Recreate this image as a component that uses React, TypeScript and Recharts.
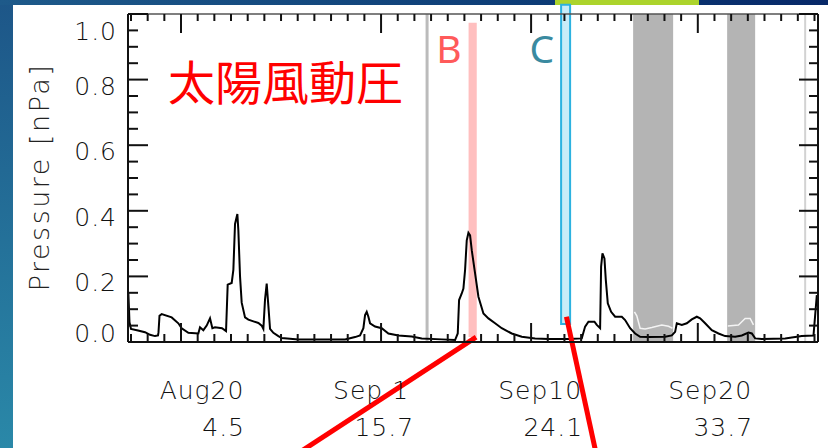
import React from 'react';
import { ComposedChart, Line, XAxis, YAxis, ReferenceArea, ReferenceLine, Label } from 'recharts';

// time axis: day of month counted from Aug 0 (Sep 1 = day 32)
const pressureDays = [
  16.84, 16.91, 17.0, 17.42, 17.84, 18.14, 18.44, 18.62, 18.65, 18.71, 18.84, 19.44, 19.84, 20.04,
  20.44, 21.04, 21.14, 21.34, 21.54, 21.74, 21.88, 22.04, 22.46, 22.7, 22.8, 23.04, 23.14, 23.24,
  23.38, 23.44, 23.54, 23.64, 23.84, 24.04, 24.64, 24.84, 24.94, 25.04, 25.14, 25.24, 25.34, 25.54,
  25.84, 26.04, 27.04, 29.84, 30.44, 30.74, 30.94, 31.04, 31.14, 31.24, 31.34, 31.64, 32.04, 32.44,
  33.04, 33.84, 34.44, 35.64, 36.44, 36.6, 36.68, 36.84, 36.94, 37.04, 37.14, 37.24, 37.34, 37.44,
  37.64, 37.84, 38.14, 38.44, 38.84, 39.24, 39.84, 40.44, 41.24, 42.04, 43.24, 44.04, 44.24, 44.44,
  44.8, 44.94, 45.14, 45.2, 45.28, 45.4, 45.48, 45.6, 45.8, 46.04, 46.44, 46.64, 46.94, 47.24,
  47.54, 48.04, 49.04, 49.44, 49.64, 49.74, 50.04, 50.34, 50.64, 50.94, 51.14, 51.44, 51.84, 52.24,
  52.64, 53.24, 53.64, 54.04, 54.24, 54.44, 54.84, 56.24, 57.24, 57.94, 58.04, 58.14,
];
const pressureValues = [
  0.15, 0.06, 0.04, 0.035, 0.03, 0.022, 0.018, 0.02, 0.03, 0.08, 0.085, 0.075, 0.057, 0.042,
  0.028, 0.026, 0.045, 0.036, 0.05, 0.072, 0.042, 0.045, 0.042, 0.033, 0.175, 0.18, 0.22, 0.36,
  0.39, 0.34, 0.2, 0.12, 0.075, 0.068, 0.058, 0.05, 0.04, 0.13, 0.178, 0.11, 0.04, 0.028,
  0.018, 0.012, 0.008, 0.008, 0.015, 0.02, 0.042, 0.082, 0.092, 0.077, 0.057, 0.047, 0.042, 0.026,
  0.02, 0.017, 0.011, 0.008, 0.006, 0.026, 0.128, 0.148, 0.163, 0.22, 0.31, 0.333, 0.325, 0.28,
  0.209, 0.138, 0.087, 0.072, 0.057, 0.042, 0.026, 0.016, 0.011, 0.009, 0.009, 0.011, 0.047, 0.062,
  0.062, 0.052, 0.042, 0.23, 0.27, 0.255, 0.19, 0.118, 0.092, 0.077, 0.077, 0.067, 0.042, 0.026,
  0.016, 0.015, 0.016, 0.02, 0.031, 0.057, 0.052, 0.057, 0.069, 0.077, 0.072, 0.057, 0.036, 0.026,
  0.018, 0.016, 0.02, 0.029, 0.026, 0.011, 0.009, 0.011, 0.018, 0.02, 0.082, 0.143,
];

// second trace, only visible over the grey intervals (null = gap)
const secondDays = [47.2, 47.34, 47.54, 47.84, 48.24, 48.84, 49.24, 49.48, 51.0, 52.8, 53.44, 53.84, 54.14, 54.34];
const secondValues = [0.092, 0.08, 0.042, 0.04, 0.044, 0.052, 0.048, 0.042, null, 0.049, 0.052, 0.072, 0.072, 0.052];

const majorDays = [20, 32, 41, 51];
// the date / distance labels sit on their own, evenly spread positions
const labelDays = [21.26, 31.4, 41.54, 51.74];
const dateLabels = ['Aug20', 'Sep 1', 'Sep10', 'Sep20'];
const distanceLabels = ['4.5', '15.7', '24.1', '33.7'];

const greyIntervals = [
  [47.12, 49.52],
  [52.76, 54.44],
];
const greyMarkers = [34.76, 57.44];
const intervalB = [37.25, 37.74];
const intervalC = [42.8, 43.34];

// pointer lines running out of the panel: [from, to] as [day, pressure]
const pointerB = [[37.7, 0.015], [27.0, -0.34]];
const pointerC = [[43.12, 0.077], [44.9, -0.34]];

const xDomain = [16.82, 58.21];
const dayTicks = Array.from({ length: 42 }, (_, i) => 17 + i);
const bottomTicks = [...dayTicks, ...labelDays].sort((a, b) => a - b);
const pressureTicks = Array.from({ length: 21 }, (_, i) => Math.round(i * 5) / 100);

const pressureData = pressureDays.map((t, i) => ({ t, p: pressureValues[i] }));
const secondData = secondDays.map((t, i) => ({ t, p: secondValues[i] }));

const tickFont = {
  fontFamily: '"DejaVu Sans", sans-serif',
  fontWeight: 200,
  fontSize: 25,
  letterSpacing: 1,
  fill: '#111',
};
const isMajorY = (v: number) => Math.round(v * 100) % 20 === 0;

const BottomTick = (props: any) => {
  const { x, y, payload } = props;
  const li = labelDays.indexOf(payload.value);
  if (li >= 0) {
    return (
      <g>
        <text x={x} y={y + 57} textAnchor="middle" {...tickFont}>{dateLabels[li]}</text>
        <text x={x + 43} y={y + 94} textAnchor="end" {...tickFont}>{distanceLabels[li]}</text>
      </g>
    );
  }
  const major = majorDays.includes(payload.value);
  return <line x1={x} y1={y} x2={x} y2={y - (major ? 19 : 8)} stroke="#111" strokeWidth={2} />;
};

const TopTick = (props: any) => {
  const { x, y, payload } = props;
  const major = majorDays.includes(payload.value);
  return <line x1={x} y1={y} x2={x} y2={y + (major ? 19 : 7)} stroke="#111" strokeWidth={2} />;
};

const LeftTick = (props: any) => {
  const { x, y, payload } = props;
  const v = payload.value;
  const major = isMajorY(v);
  // the end labels are pulled inside the frame, the rest sit just under their tick
  const dy = v >= 0.999 ? 26 : v <= 0.001 ? 0 : 15;
  return (
    <g>
      <line x1={x} y1={y} x2={x + (major ? 20 : 10)} y2={y} stroke="#111" strokeWidth={2} />
      {major && (
        <text x={x - 11} y={y + dy} textAnchor="end" {...tickFont}>{v.toFixed(1)}</text>
      )}
    </g>
  );
};

const RightTick = (props: any) => {
  const { x, y, payload } = props;
  const major = isMajorY(payload.value);
  return <line x1={x} y1={y} x2={x - (major ? 19 : 9)} y2={y} stroke="#111" strokeWidth={2} />;
};

const bandLabel = (text: string, color: string, dy: number) => (props: any) => {
  const vb = props.viewBox || {};
  return (
    <text x={vb.x - 7} y={vb.y + dy} textAnchor="end" fill={color}
      style={{ fontFamily: '"Noto Sans", sans-serif', fontSize: 39 }}>
      {text}
    </text>
  );
};

const YTitle = (props: any) => {
  const vb = props.viewBox || {};
  const cx = vb.x + 39;
  const cy = vb.y + vb.height / 2 - 1;
  return (
    <text x={cx} y={cy} textAnchor="middle" dominantBaseline="central" transform={`rotate(-90 ${cx} ${cy})`}
      style={{ fontFamily: '"DejaVu Sans", sans-serif', fontWeight: 200, fontSize: 27, letterSpacing: 2.5, fill: '#222' }}>
      Pressure [nPa]
    </text>
  );
};

const App: React.FC = () => {
  return (
    <div style={{ position: 'absolute', left: 0, top: 0, width: 828, height: 448, overflow: 'hidden' }}>
      <div style={{ position: 'absolute', inset: 0, background: 'linear-gradient(180deg, #1d5688 0%, #2a88a8 100%)' }} />
      <div style={{ position: 'absolute', left: 0, top: 0, width: 828, height: 5, background: 'linear-gradient(90deg, #1e5a8a 0%, #0d3c76 65%, #072868 100%)' }} />
      <div style={{ position: 'absolute', left: 555, top: 0, width: 144, height: 5, background: '#acd42c' }} />
      <div style={{ position: 'absolute', left: 13, top: 5, right: 0, bottom: 0, background: '#fff' }} />

      <div style={{ position: 'absolute', left: 0, top: 0 }}>
        <ComposedChart width={828} height={448} margin={{ top: 0, right: 0, bottom: 0, left: 0 }}>
          <XAxis xAxisId="bottom" type="number" dataKey="t" domain={xDomain} ticks={bottomTicks} interval={0}
            allowDataOverflow height={106} tickSize={0} tickMargin={0} tickLine={false}
            axisLine={{ stroke: '#111', strokeWidth: 2 }} tick={<BottomTick />} />
          <XAxis xAxisId="top" orientation="top" type="number" dataKey="t" domain={xDomain} ticks={dayTicks}
            interval={0} allowDataOverflow height={14} tickSize={0} tickMargin={0} tickLine={false}
            axisLine={{ stroke: '#555', strokeWidth: 1.5 }} tick={<TopTick />} />
          <YAxis yAxisId="left" type="number" domain={[0, 1]} ticks={pressureTicks} interval={0}
            allowDataOverflow width={128} tickSize={0} tickMargin={0} tickLine={false}
            axisLine={{ stroke: '#111', strokeWidth: 2 }} tick={<LeftTick />}>
            <Label content={<YTitle />} />
          </YAxis>
          <YAxis yAxisId="right" orientation="right" type="number" domain={[0, 1]} ticks={pressureTicks}
            interval={0} allowDataOverflow width={10} tickSize={0} tickMargin={0} tickLine={false}
            axisLine={{ stroke: '#111', strokeWidth: 2 }} tick={<RightTick />} />

          {greyIntervals.map(([a, b], i) => (
            <ReferenceArea key={`g${i}`} xAxisId="bottom" yAxisId="left" x1={a} x2={b} y1={0} y2={1}
              fill="#b4b4b4" fillOpacity={1} stroke="none" />
          ))}
          {greyMarkers.map((d, i) => (
            <ReferenceLine key={`m${i}`} xAxisId="bottom" yAxisId="left" x={d} stroke={i === 0 ? '#bbbbbb' : '#d2d2d2'} strokeWidth={i === 0 ? 3 : 2} />
          ))}
          <ReferenceArea xAxisId="bottom" yAxisId="left" x1={intervalC[0]} x2={intervalC[1]} y1={0.055} y2={1.028}
            ifOverflow="visible" fill="#c8ecf8" fillOpacity={1} stroke="#2cb2e0" strokeWidth={2}>
            <Label content={bandLabel('C', '#3a8aa0', 58)} />
          </ReferenceArea>

          <Line xAxisId="bottom" yAxisId="left" data={secondData} dataKey="p" type="linear" stroke="#f4f4f4"
            strokeWidth={1.5} dot={false} connectNulls={false} isAnimationActive={false} />
          <Line xAxisId="bottom" yAxisId="left" data={pressureData} dataKey="p" type="linear" stroke="#000"
            strokeWidth={2} dot={false} isAnimationActive={false} />

          <ReferenceArea xAxisId="bottom" yAxisId="left" x1={intervalB[0]} x2={intervalB[1]} y1={0.015} y2={0.973}
            fill="#ff8080" fillOpacity={0.5} stroke="none">
            <Label content={bandLabel('B', '#ff5a5a', 40)} />
          </ReferenceArea>

          {[pointerB, pointerC].map((seg, i) => (
            <ReferenceLine key={`p${i}`} xAxisId="bottom" yAxisId="left" ifOverflow="visible"
              segment={seg.map(([x, y]) => ({ x, y }))} stroke="#ff0000" strokeWidth={5} />
          ))}
        </ComposedChart>
      </div>

      <div style={{ position: 'absolute', left: 168, top: 56, fontFamily: '"Noto Sans CJK JP", sans-serif', fontSize: 47, lineHeight: 1, color: '#ff0000', whiteSpace: 'nowrap' }}>
        太陽風動圧
      </div>
    </div>
  );
};

export default App;
